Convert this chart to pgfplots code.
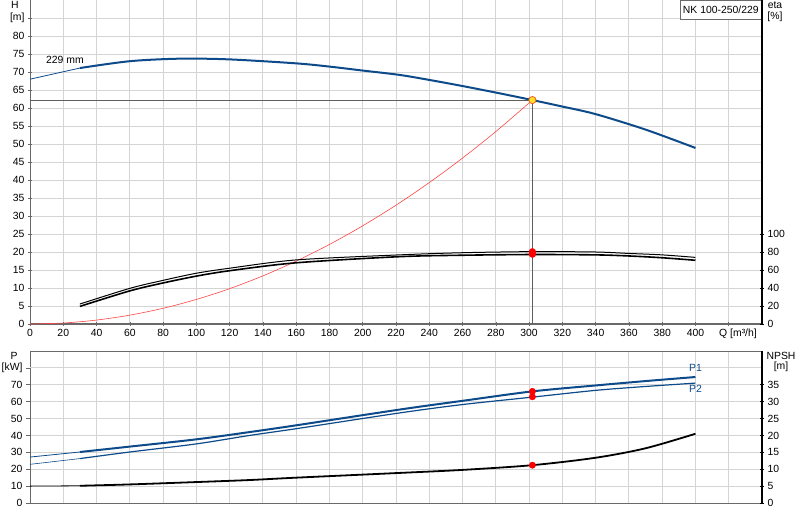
\documentclass[border=0pt]{standalone}
\usepackage{fontspec}
\setmainfont{Liberation Sans}
\usepackage{pgfplots}
\pgfplotsset{compat=1.18}
\definecolor{pblue}{RGB}{12,74,138}
\definecolor{gridc}{RGB}{212,212,212}
\definecolor{axc}{RGB}{105,105,105}
\definecolor{opline}{RGB}{95,95,95}
\definecolor{sysred}{RGB}{255,70,70}
\definecolor{optfill}{RGB}{255,225,40}
\definecolor{optdraw}{RGB}{240,90,30}
\pgfplotsset{
  base/.style={scale only axis, width=732bp, xmin=0, xmax=440, clip=false,
    tick label style={font=\fontsize{10.4bp}{12bp}\selectfont, /pgf/number format/assume math mode=true},
    tick align=outside, major tick length=4bp,
    tick style={axc, line width=0.6bp},
    major grid style={gridc, line width=0.9bp},
    axis line style={-},
  },
}
\begin{document}
\begin{tikzpicture}[font=\fontsize{10.4bp}{12bp}\selectfont]
\useasboundingbox (0,0) rectangle (800bp,520bp);
% ---------------- top: H ----------------
\begin{axis}[base, at={(30bp,196bp)}, anchor=south west, height=324bp,
  ymin=0, ymax=90,
  axis x line=bottom, axis y line=left,
  x axis line style={line width=1.6bp, draw=axc, -},
  y axis line style={line width=0.8bp, draw=axc, -},
  xtick={0,20,...,400}, extra x ticks={420}, extra x tick labels={},
  extra x tick style={grid=major},
  ytick={0,5,...,80}, extra y ticks={85}, extra y tick labels={[m]},
  extra y tick style={grid=major},
  grid=major]
\addplot[opline, line width=0.8bp] coordinates {(0,62.2) (302,62.2)};
\addplot[opline, line width=0.8bp] coordinates {(302,62.2) (302,0)};
\addplot[sysred, line width=0.6bp, smooth] coordinates {
 (0,0) (20,0.27) (40,1.09) (60,2.46) (80,4.36) (100,6.82) (120,9.82) (140,13.37)
 (160,17.46) (180,22.1) (200,27.28) (220,33.0) (240,39.28) (260,46.1) (280,53.46) (302,62.2)};
\addplot[pblue, line width=0.8bp] coordinates {(0,68.0) (30,71.1)};
\addplot[pblue, line width=2bp, smooth] coordinates {
 (30,71.1) (60,73.0) (90,73.7) (120,73.5) (160,72.4) (180,71.5) (200,70.4) (222,69.2)
 (240,67.8) (260,66.1) (282,64.1) (302,62.2) (320,60.4) (340,58.3) (370,54.0) (400,48.9)};
\addplot[only marks, mark=*, mark size=3.6bp, mark options={fill=optfill, draw=optdraw, line width=0.8bp}] coordinates {(302,62.2)};
\node[anchor=center] at (axis cs:21,73.3) {229 mm};
\node[draw=axc, fill=white, anchor=north east, inner xsep=3bp, inner ysep=0pt, minimum height=19bp, line width=0.6bp] at (rel axis cs:1,1) {NK 100-250/229};
\node[anchor=center] at ([xshift=-15bp]axis cs:0,88.6) {H};
\node[anchor=north east, inner sep=0pt] at ([xshift=-5bp, yshift=-5bp]axis cs:440,0) {Q [m³/h]};
\end{axis}
% ---------------- top: eta ----------------
\begin{axis}[base, at={(30bp,196bp)}, anchor=south west, height=324bp,
  ymin=0, ymax=360,
  axis x line=none, axis y line=right,
  y axis line style={line width=1.3bp, draw=black, -},
  ytick={0,20,...,100}, tick style={black, line width=0.6bp}]
\addplot[black, line width=1.0bp, smooth] coordinates {
 (30,22.2) (60,39.6) (80,48.5) (100,56.4) (120,62.0) (160,71.2) (222,76.8) (260,79.2)
 (302,80.4) (340,80.0) (360,78.4) (380,76.8) (400,74.0)};
\addplot[black, line width=1.6bp, smooth] coordinates {
 (30,19.6) (60,36.8) (80,45.6) (100,53.2) (120,59.2) (160,68.0) (222,74.8) (260,76.4)
 (302,77.2) (340,76.8) (360,75.6) (380,73.6) (400,70.8)};
\addplot[only marks, mark=*, mark size=3.4bp, red] coordinates {(302,80.2) (302,77.6)};
\node[anchor=center] at ([xshift=13bp]axis cs:440,354) {eta};
\node[anchor=center] at ([xshift=13bp]axis cs:440,341) {[\%]};
\end{axis}
% ---------------- bottom: P ----------------
\begin{axis}[base, at={(30bp,17bp)}, anchor=south west, height=152bp,
  ymin=0, ymax=90,
  axis line style={line width=0.9bp, draw=axc, -},
  xtick={0,20,...,420}, xticklabels={}, x tick style={draw=none},
  ytick={0,10,...,70}, extra y ticks={80}, extra y tick labels={[kW]},
  extra y tick style={grid=major},
  ytick pos=left,
  grid=major]
\addplot[pblue, line width=0.8bp] coordinates {(0,27.2) (30,30.2)};
\addplot[pblue, line width=2bp, smooth] coordinates {
 (30,30.2) (60,33.4) (100,37.7) (132,42.0) (160,46.0) (222,55.3) (260,60.5) (302,66.1)
 (340,69.6) (370,72.2) (400,74.6)};
\addplot[pblue, line width=0.6bp] coordinates {(0,22.9) (30,26.3)};
\addplot[pblue, line width=1.2bp, smooth] coordinates {
 (30,26.3) (60,30.2) (100,35.0) (132,40.0) (160,44.0) (222,53.3) (260,58.3) (302,62.7)
 (340,66.7) (370,69.0) (400,71.0)};
\addplot[only marks, mark=*, mark size=3.2bp, red] coordinates {(302,66.1) (302,62.9)};
\node[pblue] at (axis cs:400,79.7) {P1};
\node[pblue] at (axis cs:400,67.3) {P2};
\node[anchor=center] at ([xshift=-16bp]axis cs:0,87.2) {P};
\end{axis}
% ---------------- bottom: NPSH ----------------
\begin{axis}[base, at={(30bp,17bp)}, anchor=south west, height=152bp,
  ymin=0, ymax=45,
  axis x line=none, axis y line=right,
  y axis line style={line width=1.3bp, draw=black, -},
  ytick={0,5,...,35}, tick style={black, line width=0.6bp}]
\addplot[black, line width=0.8bp] coordinates {(0,5.0) (30,5.1)};
\addplot[black, line width=1.8bp, smooth] coordinates {
 (30,5.1) (60,5.5) (100,6.2) (132,6.8) (160,7.5) (222,8.9) (260,9.8) (302,11.2)
 (340,13.4) (370,16.2) (400,20.5)};
\addplot[only marks, mark=*, mark size=3.2bp, red] coordinates {(302,11.2)};
\node[anchor=center] at ([xshift=19bp]axis cs:440,43.5) {NPSH};
\node[anchor=center] at ([xshift=19bp]axis cs:440,40.2) {[m]};
\end{axis}
\end{tikzpicture}
\end{document}
